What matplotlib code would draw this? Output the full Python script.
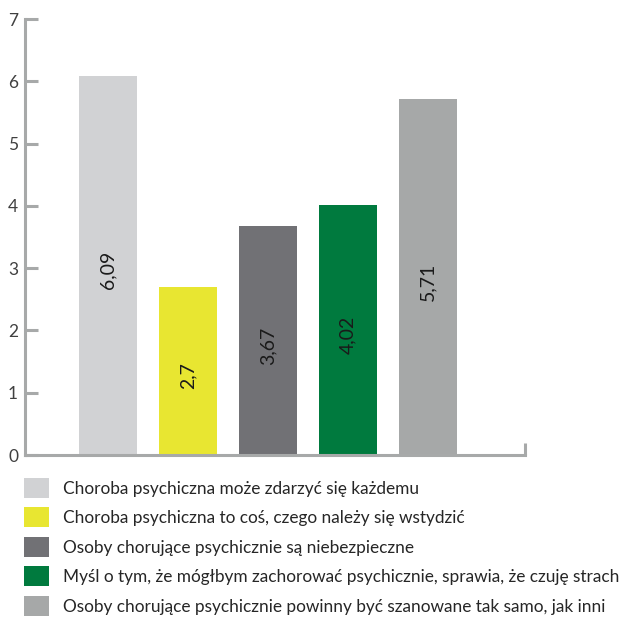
import matplotlib
matplotlib.use("Agg")
import matplotlib.pyplot as plt
from matplotlib.patches import Patch

plt.rcParams['font.family'] = ['Lato', 'DejaVu Sans']

# Survey statements and mean agreement scores
statements = [
    "Choroba psychiczna może zdarzyć się każdemu",
    "Choroba psychiczna to coś, czego należy się wstydzić",
    "Osoby chorujące psychicznie są niebezpieczne",
    "Myśl o tym, że mógłbym zachorować psychicznie, sprawia, że czuję strach",
    "Osoby chorujące psychicznie powinny być szanowane tak samo, jak inni",
]
scores = [6.09, 2.7, 3.67, 4.02, 5.71]
score_labels = ["6,09", "2,7", "3,67", "4,02", "5,71"]
bar_colors = ["#d1d2d4", "#e8e631", "#717175", "#007a3e", "#a6a8a8"]
y_ticks = [0, 1, 2, 3, 4, 5, 6, 7]

axis_color = "#a7a9a9"

fig = plt.figure(figsize=(6.25, 6.18), dpi=100)
ax = fig.add_axes([25 / 625, 1 - 455 / 618, 500 / 625, 436 / 618])

positions = list(range(len(scores)))
bars = ax.bar(positions, scores, width=0.725, color=bar_colors, zorder=2)

for rect, lab in zip(bars, score_labels):
    ax.text(rect.get_x() + rect.get_width() / 2, rect.get_height() / 2 - 0.08, lab,
            rotation=90, ha="center", va="center", fontsize=14, color="#1a1a1a")

ax.set_xlim(-1.0375, 5.2125)
ax.set_ylim(0, 7)
ax.set_yticks(y_ticks)
ax.set_yticklabels([str(t) for t in y_ticks])
ax.tick_params(axis="y", direction="in", length=9, width=2.2, color=axis_color,
               labelsize=12.5, labelcolor="#404040", pad=5)

# right-hand end marker of the category axis
ax.set_xticks([5.2125])
ax.set_xticklabels([])
ax.tick_params(axis="x", direction="in", length=9, width=2.2, color=axis_color)

for side in ("top", "right"):
    ax.spines[side].set_visible(False)
for side in ("left", "bottom"):
    ax.spines[side].set_color(axis_color)
    ax.spines[side].set_linewidth(2.2)

handles = [Patch(facecolor=c, edgecolor="none") for c in bar_colors]
fig.legend(handles, statements, loc="upper left",
           bbox_to_anchor=(24 / 625, 1 - 478 / 618), frameon=False,
           fontsize=12.4, handlelength=1.45, handleheight=1.41,
           handletextpad=0.81, labelspacing=0.55, borderpad=0, borderaxespad=0,
           labelcolor="#262626")

fig.savefig("out.png", dpi=100)
